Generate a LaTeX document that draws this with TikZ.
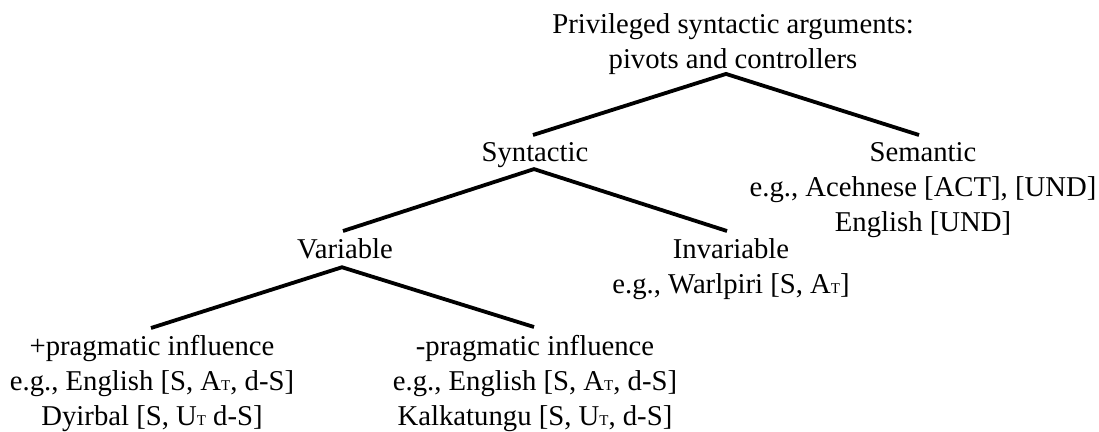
\documentclass[tikz,border=0pt]{standalone}
\usepackage{fontspec}
\setmainfont{Liberation Serif}
\newcommand{\smT}{{\fontsize{15}{15}\selectfont T}}
\begin{document}
\begin{tikzpicture}[x=1pt,y=-1pt,
  label/.style={anchor=north,align=center,inner sep=0pt,
    font=\fontsize{28.7}{35}\selectfont},
  branch/.style={line width=3.8pt,line join=miter}]
\useasboundingbox (0,0) rectangle (1099,431);

% tree labels (anchored at the top of their first line)
\node[label] (root) at (733,13.5) {Privileged syntactic arguments:\\pivots and controllers};
\node[label] (syn)  at (535,142.5) {Syntactic};
\node[label] (sem)  at (923,142.5) {Semantic\\e.g., Acehnese [ACT], [UND]\\English [UND]};
\node[label] (var)  at (345,238.5) {Variable};
\node[label] (inv)  at (731,238.5) {Invariable\\e.g., Warlpiri [S, A\smT]};
\node[label] (pp)   at (152,335.5) {+pragmatic influence\\e.g., English [S, A\smT, d-S]\\Dyirbal [S, U\smT\ d-S]};
\node[label] (mp)   at (535,335.5) {-pragmatic influence\\e.g., English [S, A\smT, d-S]\\Kalkatungu [S, U\smT, d-S]};

% branches
\draw[branch] ([xshift=-2pt,yshift=7.5pt]syn.north) -- ([xshift=-7pt,yshift=1pt]root.south)
  -- ([xshift=-4pt,yshift=7.5pt]sem.north);
\draw[branch] ([xshift=-2pt,yshift=7.5pt]var.north) -- ([xshift=-1pt,yshift=-1pt]syn.south)
  -- ([xshift=-4pt,yshift=7.5pt]inv.north);
\draw[branch] ([xshift=-1pt,yshift=7.5pt]pp.north) -- ([xshift=-3pt,yshift=-8pt]var.south)
  -- ([xshift=-1pt,yshift=8.5pt]mp.north);
\end{tikzpicture}
\end{document}
